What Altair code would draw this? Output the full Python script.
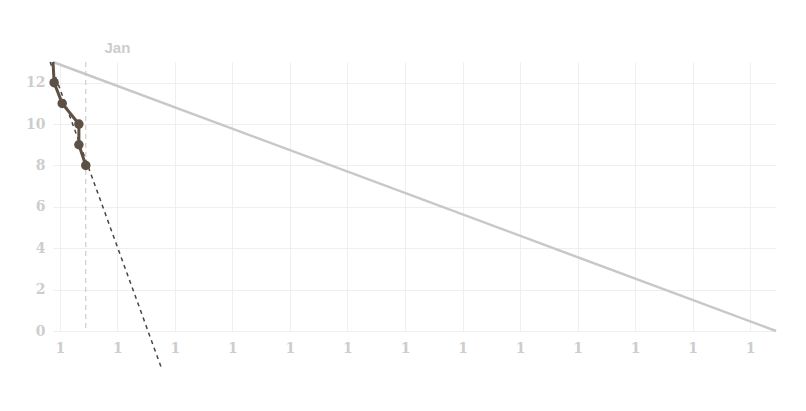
import altair as alt
import pandas as pd

# ---- data ----
ideal_x = [-0.12, 12.45]
ideal_y = [13, 0]
actual_x = [-0.12, -0.10, 0.04, 0.33, 0.33, 0.45]
actual_y = [13, 12, 11, 10, 9, 8]
trend_x = [-0.17, 1.78]
trend_y = [13, -1.9]
today_x = [0.45]
x_ticks = list(range(13))
x_tick_labels = ["1"] * 13
y_ticks = [0, 2, 4, 6, 8, 10, 12]
month_labels = ["Jan"]
month_x = [1.0]

ideal = pd.DataFrame({"x": ideal_x, "y": ideal_y})
actual = pd.DataFrame({"x": actual_x, "y": actual_y, "i": range(len(actual_x))})
trend = pd.DataFrame({"x": trend_x, "y": trend_y})
today = pd.DataFrame({"x": today_x, "y": [13], "y2": [0]})
months = pd.DataFrame({"x": month_x, "label": month_labels})

xscale = alt.Scale(domain=[-0.12, 12.45], nice=False, zero=False)
yscale = alt.Scale(domain=[0, 13], nice=False, zero=False)
xaxis = alt.Axis(values=x_ticks, labelExpr="'1'", title=None, grid=True,
                 labelPadding=10, labelFontSize=14, labelFont="DejaVu Serif",
                 labelFontWeight="bold", labelColor="#cdcdcd")
yaxis = alt.Axis(values=y_ticks, title=None, grid=True, labelPadding=8,
                 labelFontSize=14, labelFont="DejaVu Serif",
                 labelFontWeight="bold", labelColor="#cdcdcd")

X = alt.X("x:Q", scale=xscale, axis=xaxis)
Y = alt.Y("y:Q", scale=yscale, axis=yaxis)

ideal_line = alt.Chart(ideal).mark_line(color="#c8c8c8", strokeWidth=2.5).encode(x=X, y=Y)

today_rule = alt.Chart(today).mark_rule(color="#c4c4c4", strokeWidth=1, strokeDash=[5, 4]).encode(
    x=X, y=Y, y2="y2:Q")

trend_line = alt.Chart(trend).mark_line(color="#4a4540", strokeWidth=1.5, strokeDash=[4, 4]).encode(
    x=X, y=Y)

actual_line = alt.Chart(actual).mark_line(color="#5d5045", strokeWidth=3).encode(
    x=X, y=Y, order="i:Q")

actual_pts = alt.Chart(actual[actual["y"] <= 12]).mark_circle(
    color="#5d5045", size=90, opacity=1).encode(x=X, y=Y)

month_text = alt.Chart(months).mark_text(
    color="#cccccc", fontSize=15, fontWeight="bold", font="Liberation Sans",
    baseline="middle", align="center").encode(
    x=alt.X("x:Q", scale=xscale, axis=xaxis), y=alt.value(-14), text="label:N")

chart = alt.layer(ideal_line, today_rule, trend_line, actual_line, actual_pts, month_text).properties(
    width=723, height=269,
    autosize=alt.AutoSizeParams(type="none"),
    padding={"left": 45, "top": 54, "right": 22, "bottom": 70},
).configure_view(stroke=None).configure_axis(
    domain=False, ticks=False, gridColor="#efefef", gridWidth=1,
    labelColor="#cdcdcd", labelFont="DejaVu Serif", labelFontWeight="bold",
    labelFontSize=14,
)

chart.save("out.html", embed_options={"renderer": "svg", "actions": False})
